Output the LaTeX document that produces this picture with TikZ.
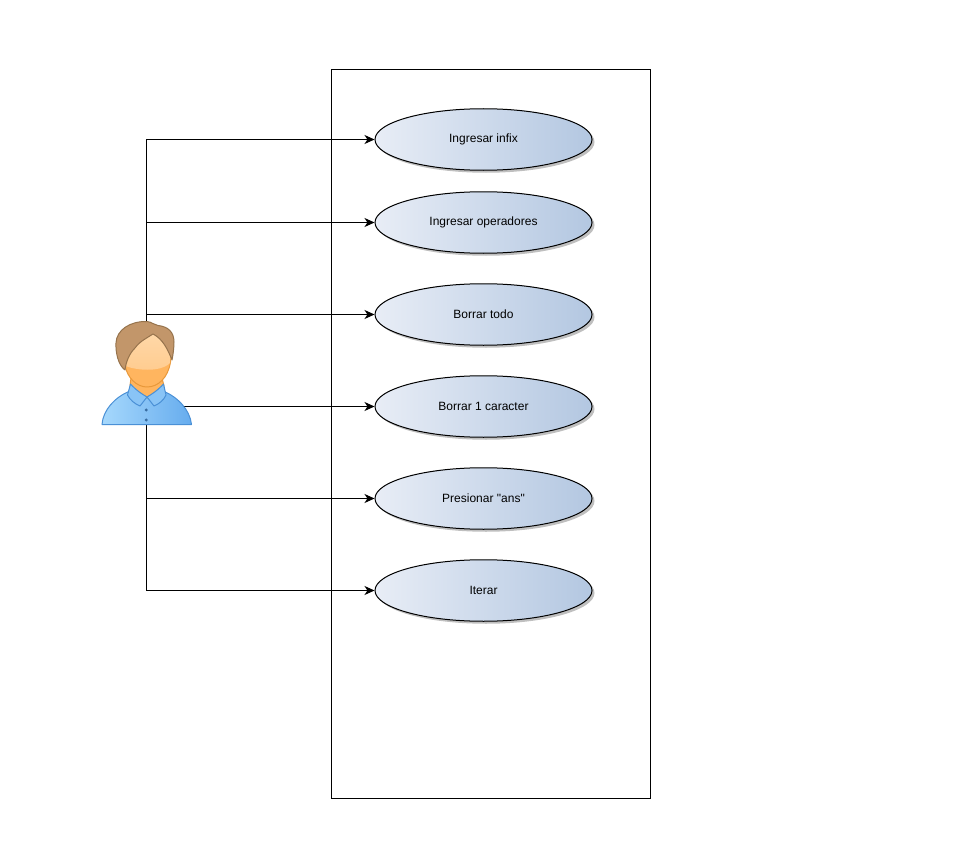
\documentclass[tikz,border=0pt]{standalone}
\usepackage{fontspec}
\newfontfamily\labelfont{Liberation Sans}
\usetikzlibrary{shapes.geometric,arrows.meta,shadows}
\definecolor{ucleft}{HTML}{E8EDF6}
\definecolor{ucright}{HTML}{B3C7E1}
\definecolor{shirtline}{HTML}{4A90D6}
\definecolor{shirtlight}{HTML}{A6D8FC}
\definecolor{shirtdark}{HTML}{66ACEE}
\definecolor{skinline}{HTML}{E8983A}
\definecolor{skintop}{HTML}{FFD8A8}
\definecolor{skinmid}{HTML}{FFCB8E}
\definecolor{skinlow}{HTML}{FFB55F}
\definecolor{hairline}{HTML}{96734C}
\definecolor{hairfill}{HTML}{C2966A}
\tikzset{
  usecase/.style={ellipse,draw=black,line width=1pt,minimum width=217pt,minimum height=61.5pt,inner sep=0pt,
    left color=ucleft,right color=ucright,
    drop shadow={shadow xshift=2.5pt,shadow yshift=-2.5pt,opacity=0.25,fill=black},
    font=\labelfont\fontsize{12}{14}\selectfont},
  link/.style={draw=black,line width=1pt,-{Stealth[length=10pt,width=9pt,inset=3pt]}},
  outline/.style={line width=1pt,line join=round},
  shirtpart/.style={outline,draw=shirtline,left color=shirtlight,right color=shirtdark},
  flappart/.style={outline,draw=shirtline,fill=shirtlight!55!shirtdark},
  skinpart/.style={outline,draw=skinline,fill=skinlow},
}
\begin{document}
\begin{tikzpicture}[x=1pt,y=-1pt]
\useasboundingbox (0,0) rectangle (962,843);
\fill[white] (0,0) rectangle (962,843);
\node[draw=black,line width=1pt,minimum width=319pt,minimum height=729pt,inner sep=0pt,anchor=north west] (system) at (330.9,69.2) {};
\node[usecase] (u1) at (483.5,139.5) {Ingresar infix};
\node[usecase] (u2) at (483.5,222.5) {Ingresar operadores};
\node[usecase] (u3) at (483.5,314.5) {Borrar todo};
\node[usecase] (u4) at (483.5,406.5) {Borrar 1 caracter};
\node[usecase] (u5) at (483.5,498.5) {Presionar "ans"};
\node[usecase] (u6) at (483.5,590.5) {Iterar};
\node[inner sep=0pt,minimum width=88pt,minimum height=104pt,anchor=north west] (actor) at (102.5,321) {};
\coordinate (actorside) at (183,406.5);
% connectors
\draw[link] (actor.north) |- (u1.west);
\draw[link] (actor.north) |- (u2.west);
\draw[link] (actor.north) |- (u3.west);
\draw[link] (actorside) -- (u4.west);
\draw[link] (actor.south) |- (u5.west);
\draw[link] (actor.south) |- (u6.west);
% person: shirt
\path[shirtpart] (102,424.5) .. controls (103,410) and (115,397) .. (130,391)
  -- (163,391) .. controls (178,397) and (190,410) .. (191.5,424.5) -- cycle;
% neck
\path[skinpart] (131,378) -- (162,378) -- (164,386) -- (147,398) -- (130,386) -- cycle;
% collar
\path[flappart] (130.5,384) .. controls (137,391) and (142,394) .. (147,397)
  -- (140,406) .. controls (135,404) and (130,400) .. (127.5,395) -- cycle;
\path[flappart] (163.5,384) .. controls (157,391) and (152,394) .. (147,397)
  -- (154,406) .. controls (159,404) and (164,400) .. (166,395) -- cycle;
% buttons
\fill[shirtline!75!black] (146.3,410) circle (1.6);
\fill[shirtline!75!black] (146.3,420) circle (1.6);
% face
\path[outline,draw=skinline,fill=skinlow] (125,365) .. controls (127,378) and (137,387) .. (147,387)
  .. controls (158,387) and (168,378) .. (170.5,362) -- (172,345) -- (130,340) -- cycle;
\path[top color=skintop,bottom color=skinmid] (125.8,366) .. controls (135,370) and (160,373) .. (170,363) -- (171,345) -- (153,333) -- (130,345) -- cycle;
% hair
\path[outline,draw=hairline,fill=hairfill] (125,370) .. controls (118,365) and (115.5,352) .. (116,343)
  .. controls (116.5,330) and (130,321) .. (147,321.5)
  .. controls (152,322) and (154,325) .. (158,325.5)
  .. controls (168,326.5) and (174,332) .. (174,342)
  .. controls (174,348) and (173,355) .. (172,360)
  .. controls (168,350) and (163,339) .. (153,334)
  .. controls (147,338) and (140,341) .. (135,348)
  .. controls (129,354) and (126,362) .. (125,370) -- cycle;
\end{tikzpicture}
\end{document}
